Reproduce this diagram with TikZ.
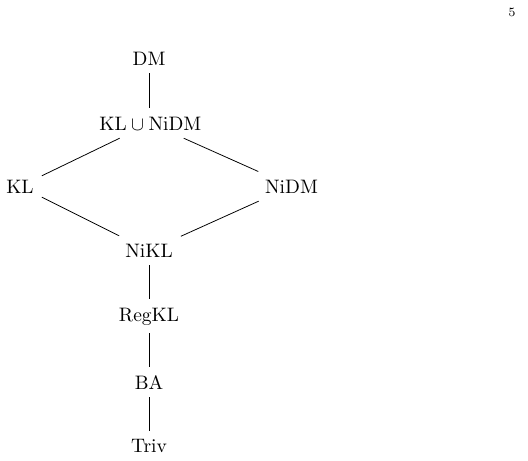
\documentclass[tikz,border=0pt]{standalone}
\begin{document}
\begin{tikzpicture}[x=0.5128pt,y=-0.5128pt,
  lat/.style={anchor=base,inner sep=4pt},
  edge/.style={line width=0.4pt}]
\useasboundingbox (0,0) rectangle (528,460);
\node[lat] (dm)   at (149,65)    {DM};
\node[lat] (join) at (150.4,130) {$\mathrm{KL}\cup\mathrm{NiDM}$};
\node[lat] (kl)   at (20,193)    {KL};
\node[lat] (nidm) at (291.5,193) {NiDM};
\node[lat] (nikl) at (149,257.3) {NiKL};
\node[lat] (reg)  at (149,321)   {RegKL};
\node[lat] (ba)   at (149,389.3) {BA};
\node[lat] (triv) at (149,452.7) {Triv};
\node[anchor=base,inner sep=0pt,font=\fontsize{6.5}{8}\selectfont] (pg) at (512,16) {5};
\draw[edge] (dm) -- (dm |- join.north);
\draw[edge] (join) -- (kl);
\draw[edge] (join) -- (nidm);
\draw[edge] (kl) -- (nikl);
\draw[edge] (nidm) -- (nikl);
\draw[edge] (nikl) -- (reg);
\draw[edge] (reg) -- (ba);
\draw[edge] (ba) -- (triv);
\end{tikzpicture}
\end{document}
